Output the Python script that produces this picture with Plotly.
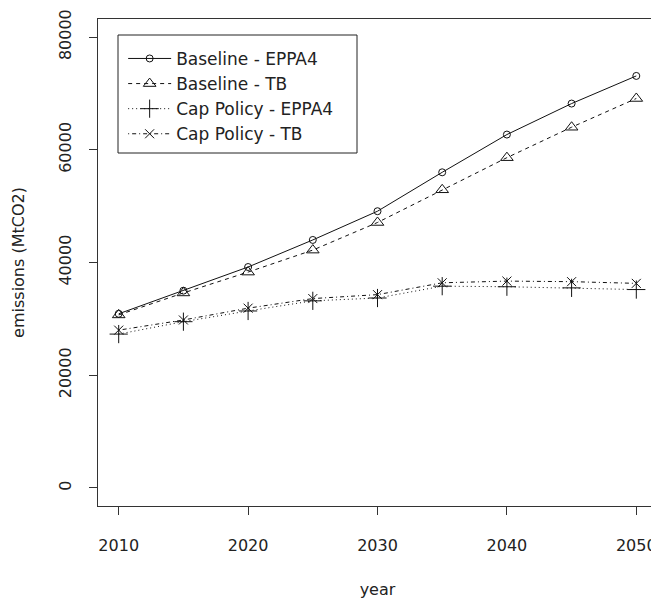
import plotly.graph_objects as go

years = [2010, 2015, 2020, 2025, 2030, 2035, 2040, 2045, 2050]
baseline_eppa4 = [30900, 35000, 39200, 44000, 49100, 56000, 62700, 68200, 73100]
baseline_tb = [30700, 34600, 38300, 42200, 47100, 52900, 58600, 64000, 69100]
cap_eppa4 = [27300, 29500, 31400, 33200, 33700, 35800, 35700, 35500, 35200]
cap_tb = [28000, 29800, 31900, 33600, 34300, 36400, 36700, 36600, 36300]

series_names = ["Baseline - EPPA4", "Baseline - TB", "Cap Policy - EPPA4", "Cap Policy - TB"]
x_ticks = [2010, 2020, 2030, 2040, 2050]
y_ticks = [0, 20000, 40000, 60000, 80000]

FONT = "DejaVu Sans"
TXT = "#222222"
INK = "#111111"

styles = [
    dict(dash="solid", symbol="circle-open", size=7),
    dict(dash="4px,4px", symbol="triangle-up-open", size=11),
    dict(dash="1px,3px", symbol="cross-thin-open", size=13),
    dict(dash="1px,3px,4px,3px", symbol="x-thin-open", size=9),
]

fig = go.Figure()
for name, vals, st in zip(series_names, [baseline_eppa4, baseline_tb, cap_eppa4, cap_tb], styles):
    fig.add_trace(go.Scatter(
        x=years, y=vals, name=name, mode="lines+markers",
        line=dict(color=INK, width=1, dash=st["dash"]),
        marker=dict(symbol=st["symbol"], size=st["size"], color=INK,
                    line=dict(color=INK, width=1)),
    ))

axis_common = dict(
    showline=True, mirror=True, linecolor="#333333", linewidth=1,
    ticks="outside", ticklen=8, tickcolor="#333333", tickwidth=1,
    showgrid=False, zeroline=False,
    tickfont=dict(family=FONT, size=16, color=TXT),
)

# page body offsets the figure by 8px; margins compensate
fig.update_layout(
    width=651, height=591,
    margin=dict(l=90, r=2, t=11, b=93),
    paper_bgcolor="white", plot_bgcolor="white",
    font=dict(family=FONT, size=16, color=TXT),
    xaxis=dict(range=[2008.4, 2051.6], tickvals=x_ticks, ticktext=[str(v) for v in x_ticks],
               ticklabelstandoff=17,
               title=dict(text="year", font=dict(family=FONT, size=16, color=TXT), standoff=29),
               **axis_common),
    yaxis=dict(range=[-3200, 83200], tickvals=y_ticks, ticktext=[str(v) for v in y_ticks],
               tickangle=-90, ticklabelstandoff=12,
               title=dict(text="emissions (MtCO2)", font=dict(family=FONT, size=16, color=TXT), standoff=26),
               **axis_common),
    showlegend=True,
    legend=dict(x=0.045, y=0.955, xanchor="left", yanchor="top",
                bgcolor="rgba(0,0,0,0)", borderwidth=0, itemwidth=43,
                font=dict(family=FONT, size=17, color=TXT),
                tracegroupgap=0),
    shapes=[dict(type="rect", xref="paper", yref="paper",
                 x0=(118 - 98) / 559, x1=(357 - 98) / 559,
                 y0=(506 - 153) / 487, y1=(506 - 35) / 487,
                 line=dict(color="#222222", width=1), fillcolor="rgba(0,0,0,0)")],
)

fig.write_html("out.html")
